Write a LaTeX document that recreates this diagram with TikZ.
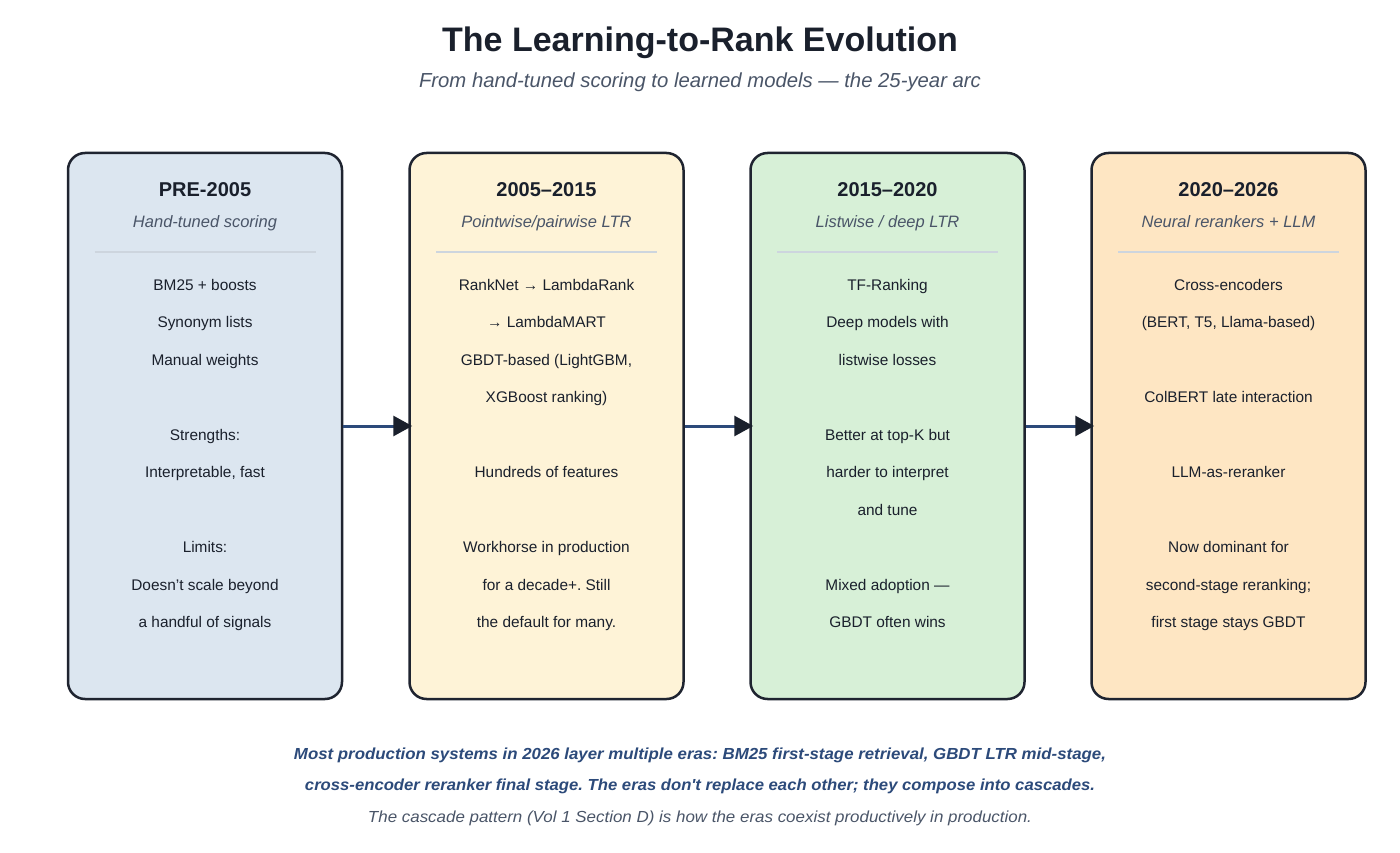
\documentclass[tikz,border=0pt]{standalone}
\usepackage{fontspec}
\setmainfont{Liberation Sans}
\newfontfamily\lsans{Liberation Sans}
\usepackage{graphicx}
\usetikzlibrary{arrows.meta}
\frenchspacing
\definecolor{ink}{HTML}{1A202C}
\definecolor{subgray}{HTML}{4A5568}
\definecolor{sepgray}{HTML}{CDD5DE}
\definecolor{navy}{HTML}{2C4A7A}
\definecolor{fillA}{HTML}{DCE6F0}
\definecolor{fillB}{HTML}{FEF3D7}
\definecolor{fillC}{HTML}{D7F0D7}
\definecolor{fillD}{HTML}{FEE6C3}
\definecolor{border}{HTML}{1F2430}
\tikzset{
  erabox/.style={draw=border, line width=2.5pt, rounded corners=17pt, minimum width=274pt, minimum height=546pt, inner sep=0pt},
  eratitle/.style={anchor=base, text=ink, font=\fontsize{20}{24}\selectfont\bfseries},
  erasub/.style={anchor=base, text=subgray, font=\fontsize{16.5}{20}\selectfont\itshape},
  bodytxt/.style={anchor=base, text=ink, font=\fontsize{15.4}{18}\selectfont},
  sepline/.style={draw=sepgray, line width=2.5pt},
  flow/.style={draw=navy, line width=3pt, -{Triangle[length=19pt,width=20pt,color=ink]}},
}
\begin{document}
\begin{tikzpicture}[x=1pt,y=-1pt]
\useasboundingbox (0,0) rectangle (1400,853);
\fill[white] (0,0) rectangle (1400,853);
% title
\node[anchor=base, text=ink, font=\fontsize{34}{40}\selectfont\bfseries] (title) at (700,52) {The Learning-to-Rank Evolution};
\node[anchor=base, text=subgray, font=\fontsize{20.3}{24}\selectfont\itshape] (subtitle) at (700,88) {From hand-tuned scoring to learned models — the 25-year arc};
% boxes
\node[erabox, fill=fillA] (b1) at (205,426) {};
\node[erabox, fill=fillB] (b2) at (546.5,426) {};
\node[erabox, fill=fillC] (b3) at (887.5,426) {};
\node[erabox, fill=fillD] (b4) at (1228.5,426) {};
% arrows
\draw[flow] (b1.east) -- ([xshift=4pt]b2.west);
\draw[flow] (b2.east) -- ([xshift=4pt]b3.west);
\draw[flow] (b3.east) -- ([xshift=4pt]b4.west);
% headers
\foreach \cx/\t/\s/\n in {205/PRE-2005/{Hand-tuned scoring}/1, 546.5/2005–2015/{Pointwise\slash pairwise LTR}/2, 887.5/2015–2020/{Listwise / deep LTR}/3, 1228.5/2020–2026/{Neural rerankers + LLM}/4}{
  \node[eratitle] (t\n) at (\cx,197) {\t};
  \node[erasub] (s\n) at (\cx,228) {\s};
  \draw[sepline] (\cx-110.5,252) -- (\cx+110.5,252);
}
% body box 1
\node[bodytxt] (a1) at (205,290) {BM25 + boosts};
\node[bodytxt] (a2) at (205,327.5) {Synonym lists};
\node[bodytxt] (a3) at (205,365) {Manual weights};
\node[bodytxt] (a4) at (205,440) {Strengths:};
\node[bodytxt] (a5) at (205,477.5) {Interpretable, fast};
\node[bodytxt] (a6) at (205,552.5) {Limits:};
\node[bodytxt] (a7) at (205,590) {Doesn’t scale beyond};
\node[bodytxt] (a8) at (205,627.5) {a handful of signals};
% body box 2
\node[bodytxt] (c1) at (546.5,290) {RankNet → LambdaRank};
\node[bodytxt] (c2) at (546.5,327.5) {→ LambdaMART};
\node[bodytxt] (c3) at (546.5,365) {GBDT-based (LightGBM,};
\node[bodytxt] (c4) at (546.5,402.5) {XGBoost ranking)};
\node[bodytxt] (c5) at (546.5,477.5) {Hundreds of features};
\node[bodytxt] (c6) at (546.5,552.5) {Workhorse in production};
\node[bodytxt] (c7) at (546.5,590) {for a decade+. Still};
\node[bodytxt] (c8) at (546.5,627.5) {the default for many.};
% body box 3
\node[bodytxt] (d1) at (887.5,290) {TF-Ranking};
\node[bodytxt] (d2) at (887.5,327.5) {Deep models with};
\node[bodytxt] (d3) at (887.5,365) {listwise losses};
\node[bodytxt] (d4) at (887.5,440) {Better at top-K but};
\node[bodytxt] (d5) at (887.5,477.5) {harder to interpret};
\node[bodytxt] (d6) at (887.5,515) {and tune};
\node[bodytxt] (d7) at (887.5,590) {Mixed adoption —};
\node[bodytxt] (d8) at (887.5,627.5) {GBDT often wins};
% body box 4
\node[bodytxt] (e1) at (1228.5,290) {Cross-encoders};
\node[bodytxt] (e2) at (1228.5,327.5) {(BERT, T5, Llama-based)};
\node[bodytxt] (e3) at (1228.5,402.5) {ColBERT late interaction};
\node[bodytxt] (e4) at (1228.5,477.5) {LLM-as-reranker};
\node[bodytxt] (e5) at (1228.5,552.5) {Now dominant for};
\node[bodytxt] (e6) at (1228.5,590) {second-stage reranking;};
\node[bodytxt] (e7) at (1228.5,627.5) {first stage stays GBDT};
% footer
\node[anchor=base, text=navy, font=\lsans\fontsize{16}{20}\selectfont\bfseries\itshape] (f1) at (700,759) {\resizebox{812pt}{\height}{Most production systems in 2026 layer multiple eras: BM25 first-stage retrieval, GBDT LTR mid-stage,}};
\node[anchor=base, text=navy, font=\lsans\fontsize{16}{20}\selectfont\bfseries\itshape] (f2) at (700,790) {\resizebox{790pt}{\height}{cross-encoder reranker final stage. The eras don't replace each other; they compose into cascades.}};
\node[anchor=base, text=subgray, font=\lsans\fontsize{16}{20}\selectfont\itshape] (f3) at (700,822) {\resizebox{664pt}{\height}{The cascade pattern (Vol 1 Section D) is how the eras coexist productively in production.}};
\end{tikzpicture}
\end{document}
